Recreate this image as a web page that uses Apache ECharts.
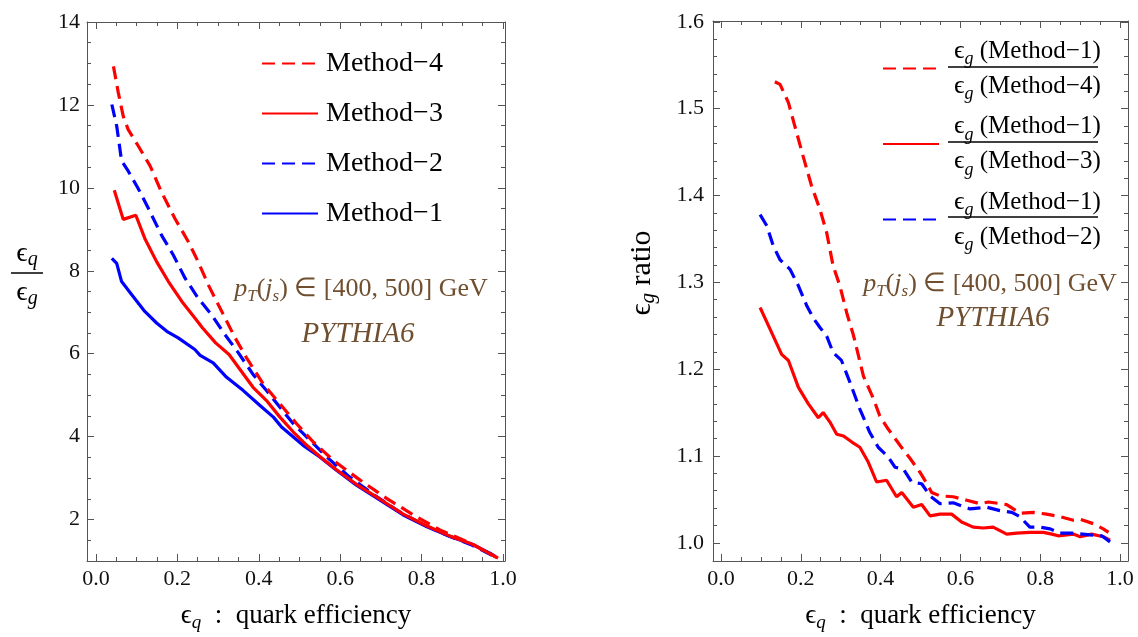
<!DOCTYPE html>
<html>
<head>
<meta charset="utf-8">
<script src="https://cdn.jsdelivr.net/npm/echarts@6.0.0/dist/echarts.min.js"></script>
<style>
html, body { margin: 0; padding: 0; background: #fff; }
#chart { width: 1138px; height: 637px; }
</style>
</head>
<body>
<div id="chart"></div>
<script>
// left panel: eps_q / eps_g  vs  eps_q
var m4 = [[0.043,12.93],[0.055,12.29],[0.067,11.73],[0.079,11.41],[0.104,11.01],[0.133,10.53],[0.161,9.90],[0.194,9.26],[0.227,8.70],[0.251,8.22],[0.276,7.66],[0.309,7.02],[0.342,6.38],[0.37,5.90],[0.411,5.27],[0.452,4.79],[0.493,4.31],[0.534,3.87],[0.583,3.43],[0.649,2.95],[0.714,2.51],[0.78,2.11],[0.845,1.75],[0.911,1.47],[0.988,1.07]];
var m3 = [[0.045,9.94],[0.067,9.24],[0.098,9.34],[0.12,8.78],[0.149,8.22],[0.178,7.74],[0.211,7.26],[0.243,6.86],[0.262,6.62],[0.294,6.26],[0.327,5.98],[0.354,5.62],[0.386,5.19],[0.419,4.87],[0.452,4.47],[0.485,4.11],[0.518,3.79],[0.55,3.52],[0.591,3.20],[0.64,2.85],[0.698,2.49],[0.755,2.13],[0.812,1.85],[0.87,1.60],[0.927,1.40],[0.985,1.08]];
var m2 = [[0.039,12.01],[0.051,11.49],[0.063,10.65],[0.079,10.41],[0.104,9.98],[0.129,9.50],[0.161,8.86],[0.19,8.38],[0.219,7.82],[0.251,7.34],[0.284,6.94],[0.317,6.46],[0.35,6.02],[0.386,5.50],[0.419,5.11],[0.452,4.71],[0.485,4.31],[0.518,3.99],[0.567,3.51],[0.62,3.05],[0.68,2.62],[0.74,2.22],[0.8,1.90],[0.86,1.63],[0.92,1.40],[0.985,1.08]];
var m1 = [[0.039,8.30],[0.051,8.18],[0.063,7.74],[0.088,7.42],[0.12,7.02],[0.149,6.74],[0.174,6.54],[0.202,6.38],[0.243,6.10],[0.256,5.96],[0.288,5.78],[0.321,5.43],[0.362,5.11],[0.403,4.75],[0.436,4.47],[0.456,4.23],[0.485,3.99],[0.509,3.79],[0.55,3.51],[0.591,3.19],[0.64,2.83],[0.698,2.47],[0.755,2.11],[0.812,1.83],[0.87,1.59],[0.927,1.39],[0.968,1.19],[0.98,1.12]];

// right panel: eps_g ratios vs eps_q
var r14 = [[0.135,1.531],[0.148,1.528],[0.169,1.507],[0.185,1.480],[0.206,1.445],[0.227,1.411],[0.248,1.384],[0.265,1.357],[0.281,1.319],[0.298,1.296],[0.315,1.265],[0.332,1.239],[0.357,1.192],[0.382,1.166],[0.398,1.146],[0.419,1.131],[0.449,1.112],[0.474,1.097],[0.499,1.081],[0.516,1.068],[0.528,1.058],[0.549,1.054],[0.582,1.053],[0.616,1.049],[0.649,1.045],[0.67,1.047],[0.716,1.044],[0.749,1.034],[0.783,1.035],[0.816,1.033],[0.85,1.030],[0.883,1.026],[0.9,1.027],[0.933,1.022],[0.958,1.016],[0.971,1.012]];
var r13 = [[0.098,1.271],[0.123,1.246],[0.152,1.217],[0.169,1.210],[0.194,1.179],[0.219,1.160],[0.244,1.144],[0.256,1.150],[0.273,1.139],[0.29,1.125],[0.307,1.123],[0.328,1.116],[0.348,1.110],[0.369,1.093],[0.39,1.070],[0.415,1.072],[0.44,1.053],[0.453,1.058],[0.482,1.041],[0.503,1.044],[0.524,1.031],[0.549,1.033],[0.578,1.033],[0.603,1.024],[0.632,1.018],[0.657,1.017],[0.682,1.018],[0.716,1.010],[0.741,1.011],[0.774,1.012],[0.808,1.012],[0.829,1.010],[0.845,1.008],[0.883,1.010],[0.9,1.007],[0.929,1.010],[0.958,1.007],[0.975,1.003]];
var r12 = [[0.098,1.378],[0.115,1.365],[0.131,1.342],[0.148,1.326],[0.173,1.315],[0.194,1.296],[0.215,1.273],[0.231,1.259],[0.248,1.248],[0.265,1.238],[0.281,1.219],[0.302,1.210],[0.323,1.185],[0.348,1.154],[0.373,1.127],[0.394,1.110],[0.419,1.099],[0.436,1.087],[0.457,1.085],[0.478,1.070],[0.503,1.068],[0.524,1.054],[0.549,1.045],[0.582,1.046],[0.624,1.039],[0.666,1.041],[0.699,1.037],[0.729,1.035],[0.749,1.030],[0.774,1.018],[0.8,1.018],[0.825,1.016],[0.85,1.011],[0.883,1.011],[0.925,1.009],[0.954,1.008],[0.975,1.001]];

// tick labels
var xTicks = [0, 0.2, 0.4, 0.6, 0.8, 1.0];
var yTicksL = [2, 4, 6, 8, 10, 12, 14];
var yTicksR = [1.0, 1.1, 1.2, 1.3, 1.4, 1.5, 1.6];

var leftNames = ['Method\u22124', 'Method\u22123', 'Method\u22122', 'Method\u22121'];
var rightNames = ['r14', 'r13', 'r12'];
var rightLabels = {
    r14: '{e|\u03f5}{s|g}{t| (Method\u22121)}\n{e|\u03f5}{s|g}{t| (Method\u22124)}',
    r13: '{e|\u03f5}{s|g}{t| (Method\u22121)}\n{e|\u03f5}{s|g}{t| (Method\u22123)}',
    r12: '{e|\u03f5}{s|g}{t| (Method\u22121)}\n{e|\u03f5}{s|g}{t| (Method\u22122)}'
};

var FONT = 'Liberation Serif';
var FRAME = '#555';
var RED = '#ff0000', BLUE = '#0000ff';
var BROWN = '#6f4f2f';

// minor ticks between the labelled ones
function minors(from, to, step, majors) {
    var out = [];
    var n = Math.round((to - from) / step);
    for (var i = 0; i <= n; i++) {
        var v = Math.round((from + i * step) * 1000) / 1000;
        var isMajor = majors.some(function (m) { return Math.abs(m - v) < 1e-6; });
        if (!isMajor) out.push(v);
    }
    return out;
}

// 4 axes per direction: labelled side major/minor, opposite side major/minor
function makeAxes(dir, grid, min, max, majors, minorVals, dec, margin) {
    var pos = dir === 'x' ? ['bottom', 'top'] : ['left', 'right'];
    var list = [];
    pos.forEach(function (p, k) {
        list.push({
            type: 'value', gridIndex: grid, position: p, min: min, max: max,
            axisLine: { show: true, onZero: false, lineStyle: { color: FRAME, width: 1 } },
            axisTick: { show: true, inside: true, length: 7, customValues: majors, lineStyle: { color: FRAME } },
            axisLabel: {
                show: k === 0, customValues: majors, margin: margin,
                color: '#111', fontFamily: FONT, fontSize: 22,
                formatter: function (v) { return v.toFixed(dec); }
            },
            splitLine: { show: false }
        });
        list.push({
            type: 'value', gridIndex: grid, position: p, min: min, max: max,
            axisLine: { show: false, onZero: false },
            axisTick: { show: true, inside: true, length: 4, customValues: minorVals, lineStyle: { color: FRAME } },
            axisLabel: { show: false },
            splitLine: { show: false }
        });
    });
    return list;
}

var xAxes = makeAxes('x', 0, -0.022, 1.005, xTicks, minors(0, 1, 0.05, xTicks), 1, 7)
    .concat(makeAxes('x', 1, -0.02, 1.02, xTicks, minors(0, 1, 0.05, xTicks), 1, 7));
var yAxes = makeAxes('y', 0, 1, 14, yTicksL, minors(1.5, 14, 0.5, yTicksL), 0, 7)
    .concat(makeAxes('y', 1, 0.979, 1.601, yTicksR, minors(1.0, 1.6, 0.02, yTicksR), 1, 9));

var titleRich = {
    n: { fontFamily: FONT, fontSize: 27, color: '#000', lineHeight: 32 },
    s: { fontFamily: FONT, fontSize: 19, fontStyle: 'italic', color: '#000', lineHeight: 19, verticalAlign: 'bottom' }
};
[0, 4].forEach(function (i) {
    xAxes[i].name = '{n|\u03f5}{s|q}{n|  :  quark efficiency}';
    xAxes[i].nameLocation = 'middle';
    xAxes[i].nameGap = 39;
    xAxes[i].nameTextStyle = { rich: titleRich };
});

function line(name, data, color, dashed, grid) {
    return {
        name: name, type: 'line', data: data,
        xAxisIndex: grid * 4, yAxisIndex: grid * 4,
        symbol: 'none', animation: false, z: 3,
        lineStyle: { color: color, width: 3.2, type: dashed ? [13, 7] : 'solid' },
        itemStyle: { color: color }
    };
}

var annRich = {
    i: { fontFamily: FONT, fontSize: 26, fontStyle: 'italic', fill: BROWN, lineHeight: 32 },
    sub: { fontFamily: FONT, fontSize: 17, fontStyle: 'italic', fill: BROWN, lineHeight: 17, verticalAlign: 'bottom' },
    n: { fontFamily: FONT, fontSize: 26, fill: BROWN, lineHeight: 32 },
    big: { fontFamily: FONT, fontSize: 29, fontStyle: 'italic', fill: BROWN, lineHeight: 32 }
};
var annText = '{i|p}{sub|T}{n|(}{i|j}{sub|s}{n|) \u2208 [400, 500] GeV}';

function ann(x, y, text) {
    return { type: 'text', x: x, y: y, z: 10,
        style: { text: text, align: 'center', verticalAlign: 'middle', rich: annRich,
                 font: 'italic 26px ' + FONT, fill: BROWN } };
}

function titleText(size) {
    return {
        n: { fontFamily: FONT, fontSize: size, fill: '#000', lineHeight: size + 4 },
        s: { fontFamily: FONT, fontSize: Math.round(size * 0.7), fontStyle: 'italic', fill: '#000',
             lineHeight: Math.round(size * 0.7), verticalAlign: 'bottom' }
    };
}

var chart = echarts.init(document.getElementById('chart'));
chart.setOption({
    backgroundColor: '#fff',
    animation: false,
    grid: [
        { left: 87, top: 22, width: 418, height: 543 },
        { left: 713, top: 21, width: 415, height: 541 }
    ],
    xAxis: xAxes,
    yAxis: yAxes,
    legend: [
        {
            data: leftNames, orient: 'vertical', left: 256, top: 43,
            itemWidth: 56, itemHeight: 14, itemGap: 19, selectedMode: false,
            itemStyle: { opacity: 0 },
            textStyle: { fontFamily: FONT, fontSize: 28, color: '#000', lineHeight: 31, padding: [0, 0, 0, 3] }
        },
        {
            data: rightNames, orient: 'vertical', left: 877, top: 33,
            itemWidth: 56, itemHeight: 14, itemGap: 10, selectedMode: false,
            itemStyle: { opacity: 0 },
            formatter: function (n) { return rightLabels[n]; },
            textStyle: { fontFamily: FONT, fontSize: 25, color: '#000', padding: [0, 0, 0, 10],
                rich: { e: { fontFamily: FONT, fontSize: 26, color: '#000', lineHeight: 35 },
                        s: { fontFamily: FONT, fontSize: 18, fontStyle: 'italic', color: '#000', lineHeight: 25, verticalAlign: 'bottom' },
                        t: { fontFamily: FONT, fontSize: 25, color: '#000', lineHeight: 35 } } }
        }
    ],
    graphic: [
        // fraction bars of the right legend
        { type: 'line', shape: { x1: 948, y1: 67, x2: 1098, y2: 67 }, style: { stroke: '#000', lineWidth: 1.5 } },
        { type: 'line', shape: { x1: 948, y1: 142, x2: 1098, y2: 142 }, style: { stroke: '#000', lineWidth: 1.5 } },
        { type: 'line', shape: { x1: 948, y1: 217, x2: 1098, y2: 217 }, style: { stroke: '#000', lineWidth: 1.5 } },
        // left y title: eps_q / eps_g
        { type: 'text', x: 27, y: 254, style: { text: '{n|\u03f5}{s|q}', align: 'center', verticalAlign: 'middle', rich: titleText(28) } },
        { type: 'line', shape: { x1: 11, y1: 273, x2: 43, y2: 273 }, style: { stroke: '#000', lineWidth: 1.5 } },
        { type: 'text', x: 27, y: 293, style: { text: '{n|\u03f5}{s|g}', align: 'center', verticalAlign: 'middle', rich: titleText(28) } },
        // right y title
        { type: 'text', x: 642, y: 273, rotation: Math.PI / 2,
          style: { text: '{n|\u03f5}{s|g}{n| ratio}', align: 'center', verticalAlign: 'middle', rich: titleText(30) } },
        ann(361, 289, annText),
        ann(358, 334, '{big|PYTHIA6}'),
        ann(990, 284, annText),
        ann(993, 318, '{big|PYTHIA6}')
    ],
    series: [
        line('Method\u22121', m1, BLUE, false, 0),
        line('Method\u22122', m2, BLUE, true, 0),
        line('Method\u22123', m3, RED, false, 0),
        line('Method\u22124', m4, RED, true, 0),
        line('r13', r13, RED, false, 1),
        line('r12', r12, BLUE, true, 1),
        line('r14', r14, RED, true, 1)
    ]
});
</script>
</body>
</html>
